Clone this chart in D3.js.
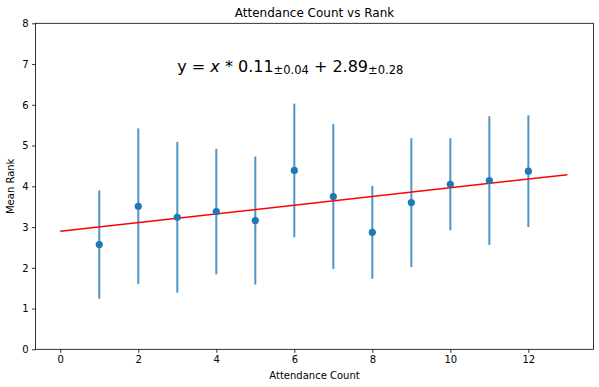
<!DOCTYPE html>
<html>
<head>
<meta charset="utf-8">
<script src="https://cdn.jsdelivr.net/npm/d3@7"></script>
<style>
  body { margin: 0; background: #fff; }
  text { font-family: "DejaVu Sans", sans-serif; }
</style>
</head>
<body>
<svg id="chart" width="599" height="387"></svg>
<script>
// ---- data ----
const attendance = [1, 2, 3, 4, 5, 6, 7, 8, 9, 10, 11, 12];
const meanRank   = [2.57, 3.51, 3.24, 3.38, 3.16, 4.39, 3.75, 2.87, 3.60, 4.05, 4.14, 4.37];
const rankErr    = [1.33, 1.91, 1.85, 1.54, 1.57, 1.64, 1.78, 1.14, 1.58, 1.13, 1.58, 1.37];
const fitSlope = 0.107;
const fitIntercept = 2.895;
const fitRange = [0, 13];
const xTicks = [0, 2, 4, 6, 8, 10, 12];
const yTicks = [0, 1, 2, 3, 4, 5, 6, 7, 8];
const titleText = "Attendance Count vs Rank";
const xLabel = "Attendance Count";
const yLabel = "Mean Rank";
const eqSlope = "0.11", eqSlopeErr = "±0.04", eqInt = "2.89", eqIntErr = "±0.28";

// ---- layout ----
const W = 599, H = 387;
const m = { left: 35.5, right: 5.5, top: 23.3, bottom: 37.7 };
const svg = d3.select("#chart");

const x = d3.scaleLinear().domain([-0.635, 13.67]).range([m.left, W - m.right]);
const y = d3.scaleLinear().domain([0, 8]).range([H - m.bottom, m.top]);

// error bars
const pts = attendance.map((a, i) => ({ a, m: meanRank[i], e: rankErr[i] }));
svg.append("g").selectAll("line").data(pts).join("line")
  .attr("x1", d => x(d.a)).attr("x2", d => x(d.a))
  .attr("y1", d => y(d.m - d.e)).attr("y2", d => y(d.m + d.e))
  .attr("stroke", "#1f77b4").attr("stroke-opacity", 0.78).attr("stroke-width", 2);

// fit line
svg.append("line")
  .attr("x1", x(fitRange[0])).attr("y1", y(fitIntercept + fitSlope * fitRange[0]))
  .attr("x2", x(fitRange[1])).attr("y2", y(fitIntercept + fitSlope * fitRange[1]))
  .attr("stroke", "#ff0000").attr("stroke-width", 1.5);

// markers
svg.append("g").selectAll("circle").data(pts).join("circle")
  .attr("cx", d => x(d.a)).attr("cy", d => y(d.m)).attr("r", 3.6)
  .attr("fill", "#1f77b4");

// axes
const xAxis = svg.append("g").attr("transform", `translate(0,${H - m.bottom})`)
  .call(d3.axisBottom(x).tickValues(xTicks).tickSize(3.5).tickPadding(3.5).tickFormat(d3.format("d")));
const yAxis = svg.append("g").attr("transform", `translate(${m.left},0)`)
  .call(d3.axisLeft(y).tickValues(yTicks).tickSize(3.5).tickPadding(3.5).tickFormat(d3.format("d")));
[xAxis, yAxis].forEach(g => {
  g.select(".domain").remove();
  g.selectAll(".tick line").attr("stroke", "#000").attr("stroke-width", 0.8);
  g.selectAll(".tick text").attr("font-size", 10).attr("fill", "#000")
    .attr("font-family", "DejaVu Sans, sans-serif");
});

// frame
svg.append("rect")
  .attr("x", m.left).attr("y", m.top)
  .attr("width", W - m.left - m.right).attr("height", H - m.top - m.bottom)
  .attr("fill", "none").attr("stroke", "#000").attr("stroke-width", 0.8);

// title
svg.append("text").attr("x", (m.left + W - m.right) / 2).attr("y", 17)
  .attr("text-anchor", "middle").attr("font-size", 12).text(titleText);

// axis labels
svg.append("text").attr("x", (m.left + W - m.right) / 2).attr("y", 379)
  .attr("text-anchor", "middle").attr("font-size", 10).text(xLabel);
svg.append("text").attr("transform", `translate(14,${(m.top + H - m.bottom) / 2}) rotate(-90)`)
  .attr("text-anchor", "middle").attr("font-size", 10).text(yLabel);

// equation
const eq = svg.append("text").attr("x", x(3)).attr("y", y(6.81)).attr("font-size", 16);
eq.append("tspan").text("y = ");
eq.append("tspan").attr("font-style", "italic").text("x");
eq.append("tspan").text(" * " + eqSlope);
eq.append("tspan").attr("font-size", 11.5).attr("dy", 2.5).text(eqSlopeErr);
eq.append("tspan").attr("dy", -2.5).text(" + " + eqInt);
eq.append("tspan").attr("font-size", 11.5).attr("dy", 2.5).text(eqIntErr);
</script>
</body>
</html>
